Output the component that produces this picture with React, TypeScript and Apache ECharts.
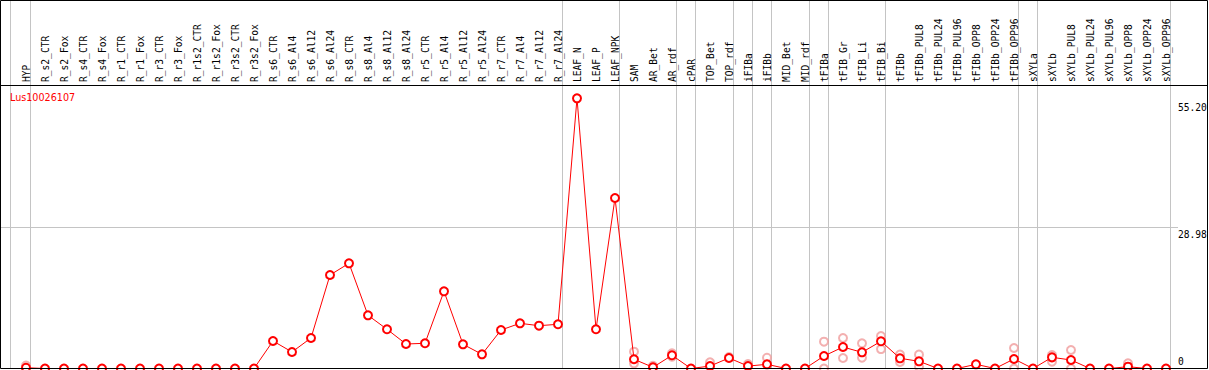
import React, { useEffect, useRef } from "react";
import * as echarts from "echarts";

const CATEGORIES = [
  "HYP", "R_s2_CTR", "R_s2_Fox", "R_s4_CTR", "R_s4_Fox", "R_r1_CTR", "R_r1_Fox", "R_r3_CTR", "R_r3_Fox",
  "R_r1s2_CTR", "R_r1s2_Fox", "R_r3s2_CTR", "R_r3s2_Fox", "R_s6_CTR", "R_s6_Al4", "R_s6_Al12", "R_s6_Al24",
  "R_s8_CTR", "R_s8_Al4", "R_s8_Al12", "R_s8_Al24", "R_r5_CTR", "R_r5_Al4", "R_r5_Al12", "R_r5_Al24",
  "R_r7_CTR", "R_r7_Al4", "R_r7_Al12", "R_r7_Al24", "LEAF_N", "LEAF_P", "LEAF_NPK", "SAM", "AR_Bet", "AR_rdf",
  "cPAR", "TOP_Bet", "TOP_rdf", "iFIBa", "iFIBb", "MID_Bet", "MID_rdf", "tFIBa", "tFIB_Gr", "tFIB_Li", "tFIB_Bi",
  "tFIBb", "tFIBb_PUL8", "tFIBb_PUL24", "tFIBb_PUL96", "tFIBb_OPP8", "tFIBb_OPP24", "tFIBb_OPP96",
  "sXYLa", "sXYLb", "sXYLb_PUL8", "sXYLb_PUL24", "sXYLb_PUL96", "sXYLb_OPP8", "sXYLb_OPP24", "sXYLb_OPP96",
];

const MEAN_VALUES = [
  0.16, 0, 0, 0, 0, 0, 0, 0, 0, 0, 0, 0, 0,
  5.66, 3.4, 6.28, 19.24, 21.65, 10.95, 8.07, 5.04, 5.19, 15.89, 4.98, 2.92, 7.92, 9.3, 8.81, 9.1,
  55.61, 8.07, 35.09,
  1.9, 0.25, 2.72, 0, 0.5, 2.16, 0.5, 0.86, 0, 0, 2.57, 4.42, 3.33, 5.6,
  2.1, 1.48, 0, 0, 0.86, 0, 1.96, 0, 2.3, 1.75, 0, 0, 0.37, 0, 0,
];

const REPLICATE_POINTS: [string, number][] = [
  ["HYP", 0.6],
  ["SAM", 3.46], ["SAM", 1.07],
  ["AR_Bet", 0.55],
  ["AR_rdf", 3.13], ["AR_rdf", 2.43],
  ["TOP_Bet", 1.27],
  ["TOP_rdf", 2.35],
  ["iFIBa", 0.9],
  ["iFIBb", 2.22],
  ["tFIBa", 5.52], ["tFIBa", 0],
  ["tFIB_Gr", 6.28], ["tFIB_Gr", 2.16],
  ["tFIB_Li", 5.18], ["tFIB_Li", 2.22],
  ["tFIB_Bi", 6.69], ["tFIB_Bi", 4.0],
  ["tFIBb", 2.85], ["tFIBb", 1.34],
  ["tFIBb_PUL8", 2.85], ["tFIBb_PUL8", 0.37],
  ["tFIBb_OPP96", 4.22], ["tFIBb_OPP96", 0],
  ["sXYLb", 2.78], ["sXYLb", 1.4],
  ["sXYLb_PUL8", 3.81], ["sXYLb_PUL8", 0],
  ["sXYLb_OPP8", 1.07],
];

const GROUP_LAST = [
  "HYP", "R_r7_Al24", "LEAF_NPK", "AR_rdf", "cPAR", "TOP_rdf", "iFIBa", "iFIBb",
  "MID_rdf", "tFIBa", "tFIB_Bi", "tFIBb_OPP96", "sXYLa", "sXYLb_OPP96",
];

const TICK_VALUES = [0, 28.98, 55.2];
const TICK_LABELS = ["0", "28.98", "55.20"];
const GRID_VALUES = [28.98];
const GENE_NAME = "Lus10026107";
const Y_MAX = 58.35;

const MONO = '"DejaVu Sans Mono", monospace';

export default function App() {
  const ref = useRef<HTMLDivElement>(null);

  useEffect(() => {
    document.body.style.margin = "0";
    const chart = echarts.init(ref.current!, null, { renderer: "svg" });
    chart.setOption({
      animation: false,
      grid: { left: 16.5, width: 1159, top: 85, height: 283.5 },
      xAxis: {
        type: "category",
        data: CATEGORIES,
        position: "top",
        boundaryGap: true,
        axisLine: { show: false },
        axisTick: { show: false },
        splitLine: { show: false },
        axisLabel: {
          interval: 0,
          rotate: 90,
          margin: 3,
          hideOverlap: false,
          color: "#000",
          fontFamily: "DejaVu Sans Mono",
          fontSize: 9.6,
        },
      },
      yAxis: {
        type: "value",
        min: 0,
        max: Y_MAX,
        show: false,
        splitLine: { show: false },
      },
      series: [
        {
          type: "scatter",
          data: REPLICATE_POINTS,
          symbol: "emptyCircle",
          symbolSize: 8,
          itemStyle: { color: "#f09c9c", borderWidth: 1.5 },
          z: 2,
          clip: false,
        },
        {
          type: "line",
          data: MEAN_VALUES,
          symbol: "emptyCircle",
          symbolSize: 8,
          showAllSymbol: true,
          itemStyle: { color: "#ff0000", borderWidth: 1.5 },
          lineStyle: { color: "#ff0000", width: 1 },
          z: 3,
          clip: false,
        },
      ],
    });

    const cx = (name: string) => chart.convertToPixel({ xAxisIndex: 0 }, name) as number;
    const cy = (v: number) => chart.convertToPixel({ yAxisIndex: 0 }, v) as number;
    const band = cx(CATEGORIES[1]) - cx(CATEGORIES[0]);
    const gray = "#c4c4c4";
    const elements: any[] = [];

    const sepXs = [Math.round(cx(CATEGORIES[0]) - band) + 3.5, ...GROUP_LAST.map((n) => Math.round(cx(n)) + 4.5)];
    sepXs.forEach((x) =>
      elements.push({
        type: "line",
        shape: { x1: x, y1: 0, x2: x, y2: 368.5 },
        style: { stroke: gray, lineWidth: 1 },
        z: 0,
        silent: true,
      })
    );

    GRID_VALUES.forEach((v) => {
      const y = Math.round(cy(v) - 0.5) + 0.5;
      elements.push({
        type: "line",
        shape: { x1: 0.5, y1: y, x2: 1178, y2: y },
        style: { stroke: gray, lineWidth: 1 },
        z: 0,
        silent: true,
      });
    });

    TICK_VALUES.forEach((v, i) => {
      const y = cy(v);
      const isZero = v === 0;
      elements.push({
        type: "text",
        x: 1178,
        y: isZero ? y - 2.5 : y + 2,
        style: {
          text: TICK_LABELS[i],
          font: `9.6px ${MONO}`,
          fill: "#000",
          align: "left",
          verticalAlign: isZero ? "bottom" : "top",
        },
        z: 5,
        silent: true,
      });
    });

    elements.push({
      type: "text",
      x: 10,
      y: 97.5,
      style: {
        text: GENE_NAME,
        font: '9.6px "DejaVu Sans", sans-serif',
        fill: "#ff0000",
        align: "left",
        verticalAlign: "middle",
      },
      z: 5,
      silent: true,
    });

    elements.push({
      type: "rect",
      shape: { x: 0.5, y: 0.5, width: 1207, height: 368 },
      style: { fill: "none", stroke: "#000", lineWidth: 1 },
      z: 4,
      silent: true,
    });
    elements.push({
      type: "line",
      shape: { x1: 0.5, y1: 85.5, x2: 1207.5, y2: 85.5 },
      style: { stroke: "#000", lineWidth: 1 },
      z: 4,
      silent: true,
    });

    chart.setOption({ graphic: { elements } });

    return () => chart.dispose();
  }, []);

  return (
    <div
      ref={ref}
      style={{ position: "absolute", left: 0, top: 0, width: 1209, height: 370 }}
    />
  );
}
